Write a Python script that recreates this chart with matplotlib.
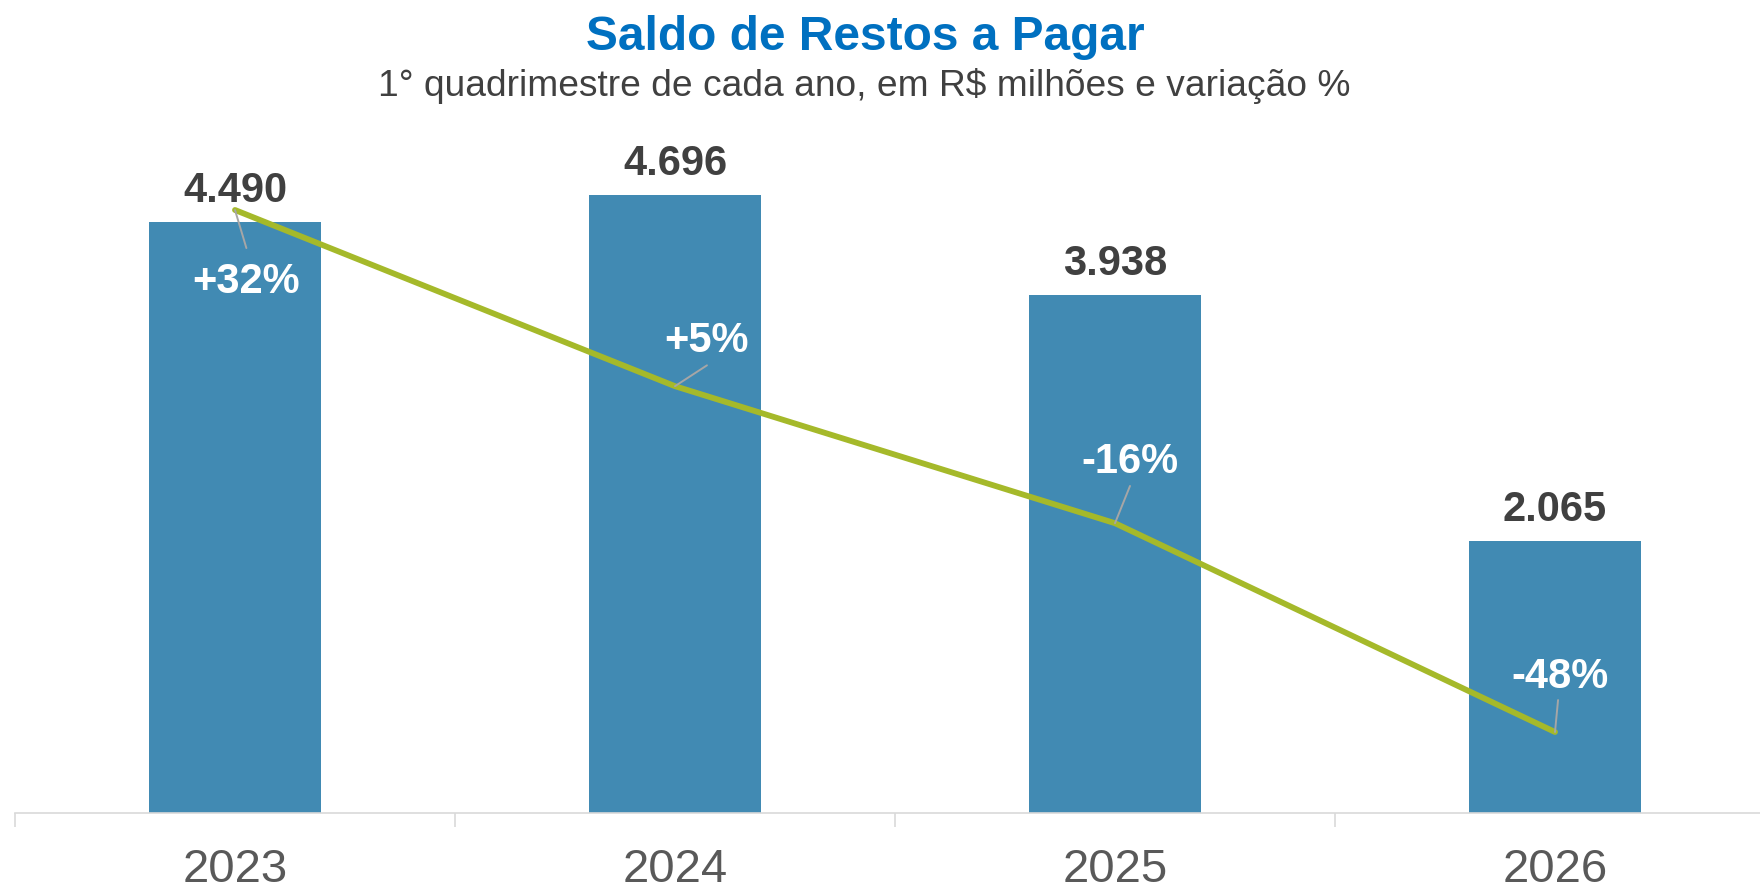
import numpy as np
import matplotlib
matplotlib.use("Agg")
import matplotlib.pyplot as plt

# data
years = ['2023', '2024', '2025', '2026']
saldo = [4490, 4696, 3938, 2065]
saldo_labels = ['4.490', '4.696', '3.938', '2.065']
variacao = [32, 5, -16, -48]
variacao_labels = ['+32%', '+5%', '-16%', '-48%']

# label / leader offsets (points) relative to the line points
var_offsets = [(8, -60), (23, 24.5), (11, 36.5), (3.6, 32)]
leader_ends = [(8.2, -27.4), (23, 15), (10.8, 26.8), (2.2, 23)]

BAR_COLOR = '#418AB3'
LINE_COLOR = '#A5B92A'
DARK = '#404040'

plt.rcParams['font.family'] = ['Liberation Sans', 'DejaVu Sans']

W, H = 1760, 889
fig = plt.figure(figsize=(W / 100, H / 100), dpi=100)
ax = fig.add_axes([15 / W, 76 / H, 1 - 15 / W, 693 / H])

x = np.arange(len(years))
ax.bar(x, saldo, width=0.393, color=BAR_COLOR, zorder=2)
ax.set_xlim(-0.5, -0.5 + (W - 15) / 440)
ax.set_ylim(0, 693 / 0.1316)

for side in ['top', 'left', 'right']:
  ax.spines[side].set_visible(False)
ax.spines['bottom'].set_color('#D9D9D9')
ax.spines['bottom'].set_linewidth(1.2)
ax.set_yticks([])
ax.set_xticks(x, years)
ax.set_xticks(np.arange(-0.5, len(years) - 0.5, 1), minor=True)
ax.tick_params(axis='x', which='major', length=0, pad=25, labelsize=34, labelcolor='#595959')
ax.tick_params(axis='x', which='minor', length=10, width=1.2, color='#D9D9D9')

for xi, v, lab in zip(x, saldo, saldo_labels):
  ax.annotate(lab, (xi, v), xytext=(0, 14.5), textcoords='offset points',
              ha='center', va='baseline', fontsize=30, fontweight='bold', color=DARK)

# variation line on a secondary axis
ax2 = ax.twinx()
ax2.set_ylim(32 - (813 - 210) / 6.525, 32 + (210 - 120) / 6.525)
ax2.set_yticks([])
for side in ['top', 'left', 'right', 'bottom']:
  ax2.spines[side].set_visible(False)
ax2.plot(x, variacao, color=LINE_COLOR, lw=4.2, solid_capstyle='round', zorder=3)

for xi, v, lab, off, le in zip(x, variacao, variacao_labels, var_offsets, leader_ends):
  ax2.annotate('', xy=(xi, v), xytext=le, textcoords='offset points',
               arrowprops=dict(arrowstyle='-', color='#A6A6A6', lw=1.4, shrinkA=0, shrinkB=0))
  ax2.annotate(lab, (xi, v), xytext=off, textcoords='offset points',
               ha='center', va='baseline', fontsize=30, fontweight='bold', color='white')

fig.text(865 / W, 1 - 50 / H, 'Saldo de Restos a Pagar', ha='center', va='baseline',
         fontsize=34.5, fontweight='bold', color='#0070C0')
fig.text(864 / W, 1 - 96.5 / H, '1° quadrimestre de cada ano, em R$ milhões e variação %',
         ha='center', va='baseline', fontsize=26.7, color=DARK)

fig.savefig('out.png', dpi=100)
